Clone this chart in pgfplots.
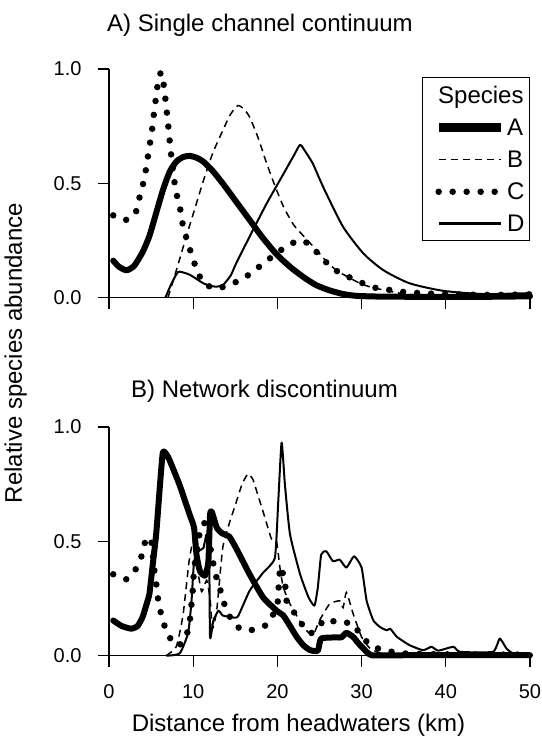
\documentclass[border=0pt]{standalone}
\usepackage{fontspec}
\setmainfont{Liberation Sans}
\usepackage{pgfplots}
\pgfplotsset{compat=1.18}

% one panel: only left and bottom axis lines, outside ticks
\pgfplotsset{
  panel/.style={
    width=421pt, height=228.7pt, scale only axis,
    xmin=0, xmax=50, ymin=0, ymax=1,
    axis x line=bottom, axis y line=left,
    axis line style={-, line width=1.2pt},
    tick align=outside, major tick length=11pt,
    every tick/.style={line width=1.2pt, black},
    xtick={0,10,20,30,40,50},
    ytick={0,0.5,1}, yticklabels={0.0,0.5,1.0},
    tick label style={font=\fontsize{20}{22}\selectfont},
    xticklabel style={yshift=-14pt},
    yticklabel style={xshift=-13pt},
    /pgf/number format/assume math mode=true,
    clip=false,
  },
  spA/.style={black, line width=6pt, line join=round, line cap=round},
  spB/.style={black, line width=1.5pt, dash pattern=on 7pt off 5pt},
  spC/.style={black, line width=6.5pt, line cap=round, dash pattern=on 0pt off 14pt},
  spD/.style={black, line width=2pt, line join=round},
}

\begin{document}
\begin{tikzpicture}

% ---------------- A) Single channel continuum ----------------
\begin{axis}[panel, at={(0pt,358pt)}, anchor=south west,
    xticklabels={},
    legend cell align=left,
    legend image code/.code={\path (0pt,0pt); \draw[#1] (9pt,0pt) -- (71pt,0pt);},
    legend style={at={(rel axis cs:1.0,0.964)}, anchor=north east,
      draw=black, line width=1pt, font=\fontsize{24}{26}\selectfont,
      row sep=10pt, inner xsep=3pt, inner ysep=6pt},
]
\addlegendimage{empty legend}
\addlegendentry{\hspace*{-69pt}Species}

\addplot[spA, smooth, tension=0.4, legend image post style={line width=9pt, line cap=butt}] coordinates {
  (0.5,0.162) (1.2,0.135) (2.1,0.12) (3.0,0.14) (4.0,0.2) (4.8,0.27) (5.6,0.37)
  (6.4,0.47) (7.2,0.55) (8.0,0.595) (8.8,0.615) (9.6,0.62) (10.4,0.612) (11.2,0.595)
  (12.3,0.555) (13.5,0.5) (15.0,0.425) (16.7,0.34) (18.3,0.26) (19.9,0.19) (21.5,0.135)
  (23.1,0.09) (24.6,0.055) (26.2,0.032) (27.8,0.016) (29.4,0.008) (32,0.005) (36,0.004)
  (40,0.004) (45,0.004) (50,0.006)
};
\addlegendentry{A}

\addplot[spB, smooth, tension=0.4] coordinates {
  (7.0,0) (8.0,0.12) (9.2,0.27) (10.2,0.39) (11.2,0.51) (12.3,0.63) (13.5,0.73)
  (14.4,0.8) (15.3,0.84) (16.0,0.825) (16.7,0.79) (17.7,0.7) (18.7,0.59) (19.7,0.49)
  (20.7,0.4) (21.9,0.32) (23.1,0.27) (24.6,0.21) (25.8,0.16) (27.0,0.12) (28.4,0.09)
  (29.8,0.063) (31.2,0.045) (32.6,0.034) (34.5,0.02) (36.5,0.012) (40,0.008) (45,0.005)
  (50,0.005)
};
\addlegendentry{B}

\addplot[spC, smooth, tension=0.4] coordinates {
  (0.5,0.36) (1.2,0.345) (2.0,0.34) (2.7,0.35) (3.2,0.375) (3.7,0.45) (4.2,0.52)
  (4.5,0.59) (4.8,0.66) (5.1,0.73) (5.35,0.81) (5.6,0.88) (5.85,0.95) (6.2,0.985)
  (6.5,0.93) (6.8,0.835) (7.0,0.765) (7.2,0.69) (7.4,0.617) (7.9,0.474) (8.4,0.40)
  (8.7,0.33) (9.2,0.26) (9.8,0.19) (10.4,0.125) (11.25,0.063) (12.8,0.04) (14.3,0.058)
  (15.8,0.08) (17.3,0.12) (18.7,0.16) (20.1,0.2) (21.6,0.235) (22.6,0.25) (23.3,0.245)
  (24.4,0.21) (25.5,0.165) (26.9,0.12) (28.4,0.092) (29.9,0.067) (31.4,0.045) (33.0,0.036)
  (35,0.025) (38,0.018) (42,0.014) (46,0.012) (50,0.015)
};
\addlegendentry{C}

\addplot[spD, smooth, tension=0.4, legend image post style={line width=3pt}] coordinates {
  (6.7,0) (7.4,0.06) (8.2,0.112) (9.0,0.108) (9.6,0.1) (10.4,0.082) (11.2,0.063)
  (12.0,0.052) (12.8,0.048) (13.5,0.055) (13.9,0.07) (14.5,0.1) (15.1,0.15) (16.7,0.267)
  (18.7,0.41) (20.7,0.54) (22.0,0.625) (22.7,0.668) (23.3,0.64) (24.2,0.587) (25.0,0.52)
  (25.8,0.456) (27.8,0.31) (30.2,0.194) (32.6,0.12) (35.7,0.063) (39.7,0.03) (44.5,0.016)
  (50,0.02)
};
\addlegendentry{D}
\end{axis}

% ---------------- B) Network discontinuum ----------------
\begin{axis}[panel, at={(0pt,0pt)}, anchor=south west]

\addplot[spA, smooth, tension=0.3] coordinates {
  (0.5,0.154) (1.5,0.13) (2.65,0.118) (3.4,0.13) (4.0,0.17) (4.5,0.23) (4.8,0.27)
  (5.2,0.4) (5.6,0.53) (6.0,0.72) (6.4,0.89) (7.0,0.87) (7.7,0.81) (8.4,0.745)
  (9.0,0.68) (9.6,0.615) (10.1,0.56) (10.4,0.44) (10.8,0.37) (11.4,0.35) (11.8,0.41)
  (12.0,0.615) (12.2,0.63) (12.8,0.56) (13.4,0.536) (14.3,0.52) (15.1,0.47) (16.7,0.356)
  (18.3,0.255) (19.9,0.197) (20.7,0.176) (21.5,0.13) (22.3,0.082) (23.1,0.045) (23.9,0.024)
  (24.8,0.022) (25.2,0.075) (27.0,0.08) (27.6,0.08) (28.2,0.1) (29.0,0.082) (29.6,0.055)
  (30.2,0.032) (31.2,0.002) (35,0.002) (40,0.002) (45,0.002) (50,0.002)
};

\addplot[spB, smooth, tension=0.3] coordinates {
  (6.8,0) (8.0,0.04) (8.8,0.18) (9.5,0.41) (10.0,0.5) (10.5,0.38) (11.0,0.28)
  (11.6,0.33) (12.0,0.25) (12.3,0.12) (12.8,0.2) (13.5,0.47) (14.3,0.58) (15.1,0.67)
  (15.8,0.75) (16.5,0.795) (17.1,0.77) (17.7,0.7) (18.3,0.63) (19.3,0.51) (19.9,0.5)
  (20.3,0.385) (20.7,0.3) (21.5,0.226) (23.1,0.125) (24.2,0.09) (25.0,0.154) (26.2,0.226)
  (27.4,0.24) (27.8,0.21) (28.2,0.277) (29.0,0.183) (30.0,0.082) (31.0,0.032) (32.6,0.007)
  (36,0.002) (50,0.002)
};

\addplot[spC, smooth, tension=0.3] coordinates {
  (0.5,0.356) (2.1,0.334) (3.3,0.385) (4.0,0.45) (4.4,0.514) (5.0,0.507) (5.4,0.37)
  (5.7,0.29) (5.9,0.226) (6.4,0.154) (7.0,0.09) (8.2,0.042) (9.2,0.09) (9.6,0.154)
  (9.8,0.226) (10.0,0.31) (10.1,0.385) (10.4,0.44) (10.6,0.51) (11.2,0.58) (11.6,0.57)
  (11.9,0.5) (12.2,0.44) (12.6,0.363) (13.2,0.29) (13.7,0.226) (14.5,0.16) (15.7,0.114)
  (17.3,0.114) (18.9,0.14) (20.0,0.226) (20.2,0.334) (20.4,0.39) (20.9,0.32) (21.1,0.24)
  (22.1,0.183) (23.1,0.128) (23.9,0.097) (24.6,0.118) (25.8,0.161) (27.2,0.143) (28.8,0.143)
  (29.8,0.097) (31.0,0.046) (32.6,0.024) (35,0.01) (40,0.006) (45,0.005) (50,0.005)
};

\addplot[spD, smooth, tension=0.3] coordinates {
  (6.8,0) (8.4,0.01) (9.4,0.1) (9.8,0.24) (10.1,0.41) (10.6,0.457) (11.2,0.47)
  (11.6,0.53) (11.9,0.44) (12.0,0.08) (12.4,0.154) (13.0,0.197) (13.5,0.176) (14.5,0.169)
  (15.3,0.171) (16.7,0.284) (18.3,0.363) (19.7,0.428) (20.1,0.673) (20.5,0.932) (20.9,0.745)
  (21.5,0.53) (22.7,0.356) (23.7,0.255) (24.4,0.219) (24.8,0.298) (25.2,0.442) (25.8,0.457)
  (26.6,0.413) (27.4,0.42) (28.2,0.385) (29.1,0.435) (30.0,0.385) (30.6,0.24) (31.4,0.154)
  (32.2,0.125) (33.0,0.111) (33.4,0.118) (34.2,0.082) (35.7,0.046) (37.3,0.024) (38.3,0.039)
  (39.1,0.022) (40.9,0.039) (41.7,0.017) (45.6,0.017) (46.4,0.075) (47.2,0.032) (48.0,0.01)
  (50,0.007)
};
\end{axis}

% titles and axis labels
\node[anchor=base, font=\fontsize{24}{28}\selectfont] at (151pt,624pt) {A) Single channel continuum};
\node[anchor=base, font=\fontsize{24}{28}\selectfont] at (155.5pt,258pt) {B) Network discontinuum};
\node[anchor=base, font=\fontsize{24}{28}\selectfont] at (189.5pt,-76pt) {Distance from headwaters (km)};
\node[anchor=base, rotate=90, font=\fontsize{24}{28}\selectfont] at (-87pt,302.7pt) {Relative species abundance};

\pgfresetboundingbox
\useasboundingbox (-109pt,-80.3pt) rectangle (432pt,655.7pt);
\end{tikzpicture}
\end{document}
